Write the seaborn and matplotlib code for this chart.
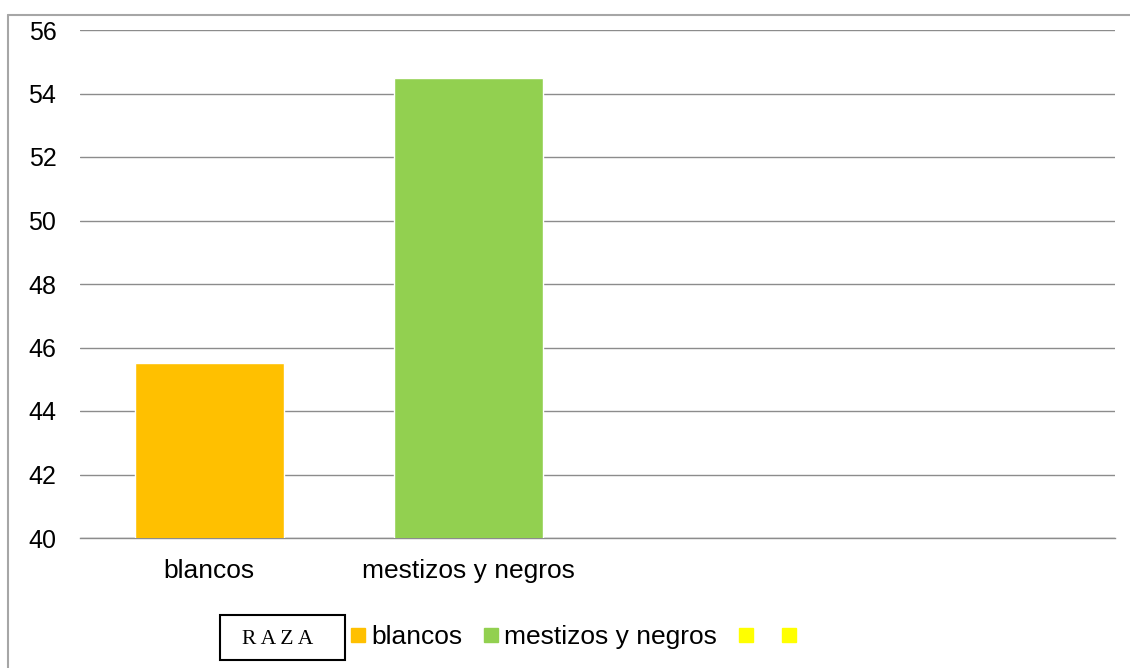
import matplotlib
matplotlib.use("Agg")
import matplotlib.pyplot as plt
import matplotlib.patches as mpatches
from matplotlib.lines import Line2D
import numpy as np
import pandas as pd
import seaborn as sns

# Data
categories = ["blancos", "mestizos y negros", " ", "  "]
values = [45.5, 54.5, np.nan, np.nan]
colors = ["#FFC000", "#92D050", "#FFFF00", "#FFFF00"]
legend_labels = ["blancos", "mestizos y negros", "", ""]
yticks = [40, 42, 44, 46, 48, 50, 52, 54, 56]
legend_title = "R\u2009A\u2009Z\u2009A"

sns.set_theme(style="white")
plt.rcParams["font.family"] = ["Liberation Sans", "DejaVu Sans"]

df = pd.DataFrame({"raza": categories, "valor": values})

fig = plt.figure(figsize=(11.3, 6.68), dpi=100)
ax = fig.add_axes([80 / 1130, 1 - 538 / 668, (1115 - 80) / 1130, (538 - 30) / 668])

sns.barplot(data=df, x="raza", y="valor", hue="raza", palette=colors,
            order=categories, hue_order=categories, width=0.575,
            legend=False, ax=ax, saturation=1, zorder=3)

ax.set_ylim(40, 56)
ax.set_xlim(-0.5, 3.5)
ax.set_yticks(yticks)
ax.set_yticklabels([str(t) for t in yticks])
ax.set_xlabel("")
ax.set_ylabel("")
ax.yaxis.grid(True, color="#8c8c8c", linewidth=1.0, zorder=0)
ax.xaxis.grid(False)
for side in ["left", "right", "top"]:
    ax.spines[side].set_visible(False)
ax.spines["bottom"].set_color("#8c8c8c")
ax.spines["bottom"].set_linewidth(1.0)
ax.tick_params(axis="y", length=0, pad=17, labelsize=18, colors="black")
ax.tick_params(axis="x", length=0, pad=15, labelsize=19, colors="black")

# Outer chart frame (top and left edges)
x0, y0 = 8 / 1130, 1 - 15 / 668
fig.add_artist(Line2D([x0, 1.0], [y0, y0], transform=fig.transFigure,
                      color="#a6a6a6", linewidth=1.5))
fig.add_artist(Line2D([x0, x0], [0.0, y0], transform=fig.transFigure,
                      color="#a6a6a6", linewidth=1.5))

# Legend title box
box = mpatches.Rectangle((220 / 1130, 1 - 660 / 668), 125 / 1130, 45 / 668,
                         transform=fig.transFigure, fill=False,
                         edgecolor="black", linewidth=1.5)
fig.add_artist(box)
fig.text(278 / 1130, 1 - 640 / 668, legend_title, ha="center", va="center",
         fontsize=15.5, family=["Liberation Serif", "DejaVu Serif"], color="black")

handles = [Line2D([], [], linestyle="none", marker="s", markersize=9.5,
                  markerfacecolor=c, markeredgecolor=c) for c in colors]
fig.legend(handles, legend_labels, loc="center left",
           bbox_to_anchor=(350 / 1130, 1 - 637 / 668), ncol=4, frameon=False,
           fontsize=19, labelcolor="black", handlelength=0.6, handletextpad=0.2,
           columnspacing=0.8, borderpad=0, borderaxespad=0)

fig.savefig("out.png", dpi=100)
